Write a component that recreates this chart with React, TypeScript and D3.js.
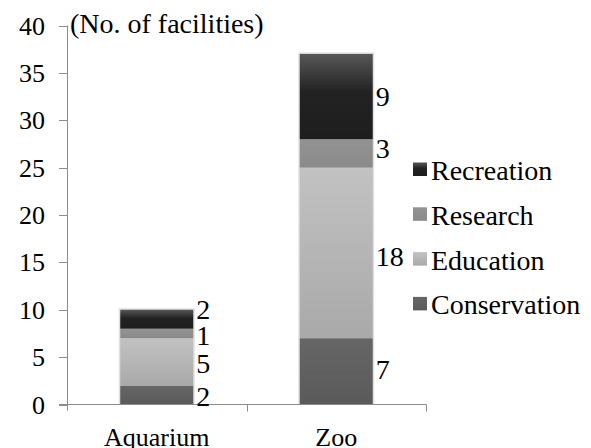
import React, { useEffect, useState } from "react";
import { scaleBand, scaleLinear, stack } from "d3";

// Data
const categories = ["Aquarium", "Zoo"];
const seriesNames = ["Conservation", "Education", "Research", "Recreation"];
const conservation = [2, 7];
const education = [5, 18];
const research = [1, 3];
const recreation = [2, 9];
const yTicks = [0, 5, 10, 15, 20, 25, 30, 35, 40];

const seriesValues = [conservation, education, research, recreation];
// gradient stops (offset, colour) for each series
const seriesColors: [number, string][][] = [
  [[0, "#666666"], [1, "#5a5a5a"]],
  [[0, "#c2c2c2"], [1, "#a9a9a9"]],
  [[0, "#939393"], [1, "#8a8a8a"]],
  [[0, "#575757"], [0.45, "#222222"], [1, "#1e1e1e"]],
];

// label nudges where segments are thin (per category, per series)
const labelOffsets = [
  [1, 1.5, 2.5, -10],
  [-2, 4, -5, 0],
];

const font = "Liberation Serif";
const axisColor = "#8c8c8c";
const barW = 73;

const x = scaleBand<string>().domain(categories).range([67, 426]);
const y = scaleLinear().domain([0, 40]).range([404.5, 25.5]);

const rows = categories.map((c, ci) => {
  const r: any = { category: c };
  seriesNames.forEach((s, si) => (r[s] = seriesValues[si][ci]));
  return r;
});
const stacked = stack().keys(seriesNames)(rows);

export default function App() {
  const [, setReady] = useState(0);

  // redraw once the serif face is loaded
  useEffect(() => {
    const fonts = (document as any).fonts;
    if (fonts && fonts.load) {
      Promise.all([fonts.load(`28px "${font}"`), fonts.ready]).then(() =>
        setReady((n) => n + 1)
      );
    }
  }, []);

  const cx = (c: string) => (x(c) as number) + x.bandwidth() / 2;
  const legendRows = [...seriesNames].reverse();

  return (
    <svg
      width={591}
      height={448}
      style={{ position: "absolute", left: 0, top: 0, fontFamily: `"${font}", serif` }}
    >
      <defs>
        {seriesColors.map((stops, i) => (
          <linearGradient key={i} id={`grad${i}`} x1={0} y1={0} x2={0} y2={1}>
            {stops.map(([o, c], j) => (
              <stop key={j} offset={o} stopColor={c} />
            ))}
          </linearGradient>
        ))}
      </defs>

      {/* soft edge around the bars */}
      {categories.map((c, ci) => {
        const top = stacked[stacked.length - 1][ci][1];
        return (
          <rect
            key={`edge-${c}`}
            x={cx(c) - barW / 2 - 1.5}
            y={y(top) - 1.5}
            width={barW + 3}
            height={y(0) - y(top) + 1.5}
            fill="#000"
            opacity={0.12}
          />
        );
      })}

      {/* Bars */}
      {categories.map((c, ci) => (
        <g key={c}>
          {stacked.map((layer, si) => {
            const d = layer[ci];
            return (
              <rect
                key={si}
                x={cx(c) - barW / 2}
                y={y(d[1])}
                width={barW}
                height={y(d[0]) - y(d[1])}
                fill={`url(#grad${si})`}
              />
            );
          })}
        </g>
      ))}

      {/* Axes */}
      <g stroke={axisColor} strokeWidth={1}>
        <line x1={67.5} x2={67.5} y1={y(40)} y2={y(0) + 6} />
        <line x1={59} x2={426.5} y1={y(0)} y2={y(0)} />
        {yTicks.map((t) => (
          <line
            key={t}
            x1={59}
            x2={67.5}
            y1={Math.round(y(t)) + 0.5}
            y2={Math.round(y(t)) + 0.5}
          />
        ))}
        {[...categories.slice(1).map((c) => x(c) as number), 426].map((px) => (
          <line
            key={px}
            x1={Math.round(px) + 0.5}
            x2={Math.round(px) + 0.5}
            y1={y(0)}
            y2={y(0) + 7}
          />
        ))}
      </g>

      {/* Tick labels */}
      {yTicks.map((t) => (
        <text key={t} x={45} y={y(t) + 9} textAnchor="end" fontFamily={font} fontSize={26}>
          {t}
        </text>
      ))}
      {categories.map((c) => (
        <text key={c} x={cx(c)} y={446} textAnchor="middle" fontFamily={font} fontSize={26}>
          {c}
        </text>
      ))}

      {/* Title */}
      <text x={70} y={33} fontFamily={font} fontSize={28}>
        (No. of facilities)
      </text>

      {/* Value labels */}
      {categories.map((c, ci) =>
        stacked.map((layer, si) => {
          const d = layer[ci];
          const mid = (y(d[0]) + y(d[1])) / 2;
          return (
            <text
              key={`${c}-${si}`}
              x={cx(c) + barW / 2 + 3}
              y={mid + 9.5 + labelOffsets[ci][si]}
              fontFamily={font}
              fontSize={28}
            >
              {d[1] - d[0]}
            </text>
          );
        })
      )}

      {/* Legend */}
      {legendRows.map((s, i) => {
        const si = seriesNames.indexOf(s);
        const ly = 169 + i * 44.8;
        return (
          <g key={s}>
            <rect x={413} y={ly - 6.5} width={14} height={13.5} fill={`url(#grad${si})`} />
            <text x={431} y={ly + 11} fontFamily={font} fontSize={28}>
              {s}
            </text>
          </g>
        );
      })}
    </svg>
  );
}
